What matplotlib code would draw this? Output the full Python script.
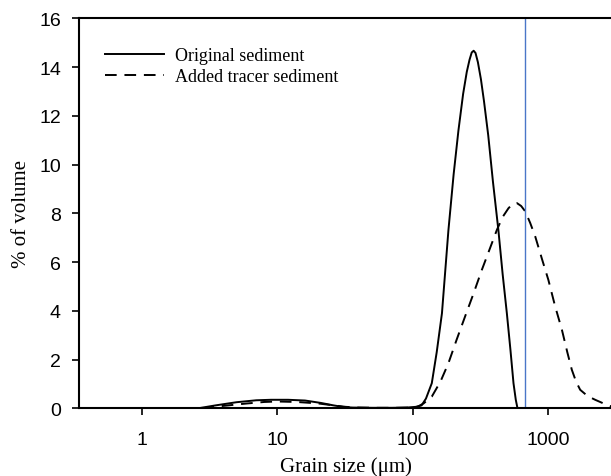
import matplotlib
matplotlib.use("Agg")
import matplotlib.pyplot as plt

# grain size (um) vs % of volume
size_orig = [2.6, 3.5, 5, 7, 9, 12, 16, 21, 26, 31, 36, 50, 70, 90, 105, 116, 125,
             138, 150, 164, 183, 200, 217, 235, 250, 262, 272, 281, 290, 302, 318,
             335, 360, 390, 428, 460, 494, 525, 553, 575, 592]
vol_orig = [0, 0.12, 0.25, 0.33, 0.35, 0.35, 0.32, 0.22, 0.12, 0.05, 0.03, 0.02, 0.02,
            0.03, 0.06, 0.12, 0.4, 1.03, 2.3, 3.9, 7.3, 9.6, 11.4, 12.9, 13.8, 14.3,
            14.6, 14.67, 14.58, 14.2, 13.5, 12.6, 11.2, 9.3, 7.3, 5.5, 3.9, 2.4, 1.03,
            0.35, 0]

size_tracer = [2.8, 4, 6, 8, 10, 14, 20, 26, 32, 40, 55, 75, 95, 108, 120, 138, 160,
               183, 210, 243, 280, 323, 370, 417, 460, 508, 545, 586, 630, 675, 735,
               800, 900, 1000, 1120, 1259, 1380, 1490, 1600, 1717, 1950, 2215, 2600, 2943]
vol_tracer = [0, 0.1, 0.2, 0.26, 0.28, 0.26, 0.2, 0.12, 0.06, 0.03, 0.02, 0.02, 0.03,
              0.06, 0.2, 0.48, 1.1, 1.85, 2.8, 3.77, 4.7, 5.68, 6.55, 7.32, 7.85, 8.21,
              8.38, 8.42, 8.3, 8.08, 7.6, 7.05, 6.1, 5.27, 4.2, 3.22, 2.3, 1.58, 1.1,
              0.76, 0.5, 0.35, 0.18, 0.07]

marker_size = 672  # blue vertical line
x_ticks = [1, 10, 100, 1000]
y_ticks = list(range(0, 17, 2))

serif = ["Liberation Serif", "DejaVu Serif"]
sans = ["Liberation Sans", "DejaVu Sans"]

fig = plt.figure(figsize=(6.11, 4.77), dpi=100)
ax = fig.add_axes([0.1293, 0.1419, 0.874, 0.8176])

ax.plot(size_orig, vol_orig, color="black", lw=1.4, label="Original sediment")
ax.plot(size_tracer, vol_tracer, color="black", lw=1.4, dashes=(6, 4),
        label="Added tracer sediment")
ax.axvline(marker_size, color="#4a76c8", lw=1.0)

ax.set_xscale("log")
ax.set_xlim(0.344, 3000)
ax.set_ylim(0, 16)
ax.set_xticks(x_ticks)
ax.set_xticklabels([str(t) for t in x_ticks], family=sans, fontsize=14)
ax.xaxis.set_minor_locator(matplotlib.ticker.NullLocator())
ax.set_yticks(y_ticks)
ax.set_yticklabels([str(t) for t in y_ticks], family=sans, fontsize=14)
ax.tick_params(direction="out", length=5, width=1.2)
ax.tick_params(axis="x", pad=11)
ax.tick_params(axis="y", pad=8)

for s in ["left", "bottom", "top"]:
    ax.spines[s].set_linewidth(1.5)
ax.spines["right"].set_visible(False)

ax.set_xlabel("Grain size (\u03bcm)", family=serif, fontsize=15, labelpad=6)
ax.set_ylabel("% of volume", family=serif, fontsize=15, labelpad=6)

leg = ax.legend(loc="upper left", bbox_to_anchor=(0.035, 0.945), frameon=False,
                prop={"family": serif, "size": 13}, handlelength=3.3,
                handletextpad=0.6, labelspacing=0.22, borderaxespad=0)

fig.savefig("out.png", dpi=100)
